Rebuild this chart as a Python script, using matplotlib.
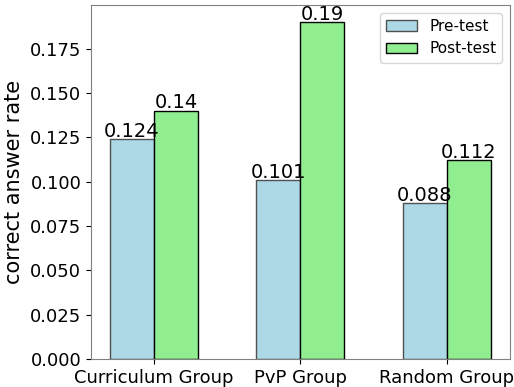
import matplotlib
matplotlib.use("Agg")
import matplotlib.pyplot as plt
import numpy as np

groups = ["Curriculum Group", "PvP Group", "Random Group"]
pre_test = [0.124, 0.101, 0.088]
post_test = [0.14, 0.19, 0.112]

x = np.arange(len(groups))
width = 0.3

fig, ax = plt.subplots(figsize=(5.14, 3.87), dpi=100)
b1 = ax.bar(x - width / 2, pre_test, width, label="Pre-test",
            color="lightblue", edgecolor="#505050")
b2 = ax.bar(x + width / 2, post_test, width, label="Post-test",
            color="lightgreen", edgecolor="black")

for bars, vals in ((b1, pre_test), (b2, post_test)):
    for rect, v in zip(bars, vals):
        ax.text(rect.get_x() + rect.get_width() / 2, rect.get_height() - 0.001, f"{v}",
                ha="center", va="bottom", fontsize=14)

ax.set_xticks(x)
ax.set_xticklabels(groups, fontsize=13)
ax.tick_params(axis="y", labelsize=13)
ax.set_ylabel("correct answer rate", fontsize=15)
for s in ax.spines.values():
    s.set_color("#808080")
ax.legend(fontsize=11)

fig.subplots_adjust(left=0.177, right=0.992, top=0.987, bottom=0.072)
fig.savefig("out.png")
